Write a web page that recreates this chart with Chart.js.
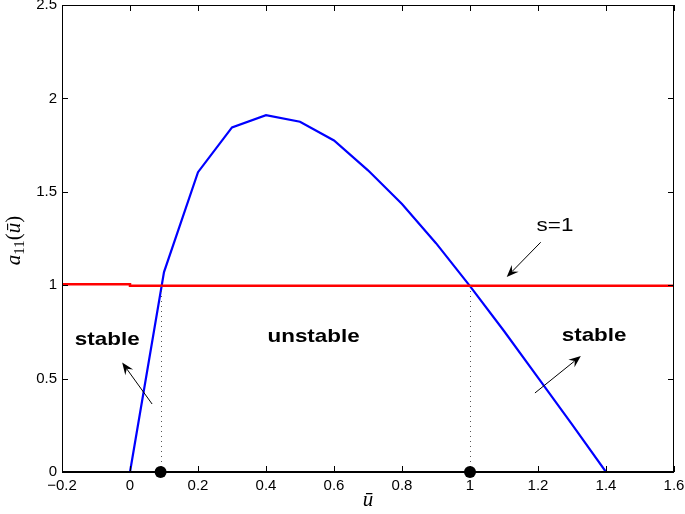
<!DOCTYPE html>
<html>
<head>
<meta charset="utf-8">
<script src="https://cdn.jsdelivr.net/npm/chart.js@4/dist/chart.umd.min.js"></script>
<style>
  html, body { margin: 0; padding: 0; background: #fff; }
  #wrap { width: 685px; height: 514px; }
</style>
</head>
<body>
<div id="wrap"><canvas id="c" width="685" height="514"></canvas></div>
<script>
// blue curve a11(u)
const curveU = [0, 0.1, 0.2, 0.3, 0.4, 0.5, 0.6, 0.7, 0.8, 0.9, 1.0, 1.1, 1.2, 1.3, 1.4];
const curveA = [0, 1.07, 1.605, 1.845, 1.91, 1.875, 1.775, 1.615, 1.435, 1.225, 0.995, 0.755, 0.505, 0.255, 0];

// red line s=1 (small step at u=0)
const sU = [-0.2, 0, 0, 1.6];
const sA = [1.005, 1.005, 0.997, 0.997];

// marked crossings on the u axis
const rootsU = [0.09, 1.0];

const xTicks = [-0.2, 0, 0.2, 0.4, 0.6, 0.8, 1, 1.2, 1.4, 1.6];
const yTicks = [0, 0.5, 1, 1.5, 2, 2.5];

// text labels (data coords)
const labels = [
  { text: 'stable', u: -0.067, a: 0.707, bold: true },
  { text: 'unstable', u: 0.54, a: 0.723, bold: true },
  { text: 'stable', u: 1.365, a: 0.73, bold: true },
  { text: 's=1', u: 1.25, a: 1.317, bold: false }
];
// arrows: from -> to (data coords)
const arrows = [
  [0.065, 0.364, -0.023, 0.586],
  [1.208, 1.23, 1.108, 1.044],
  [1.191, 0.423, 1.326, 0.621]
];

const toXY = (xs, ys) => xs.map((x, i) => ({ x: x, y: ys[i] }));
const fmt = v => (v < 0 ? '\u2212' : '') + String(Math.abs(Math.round(v * 10) / 10));

const extras = {
  id: 'extras',
  afterDatasetsDraw(chart) {
    const ctx = chart.ctx;
    const xs = chart.scales.x, ys = chart.scales.y;
    const area = chart.chartArea;

    // dotted verticals
    ctx.save();
    ctx.strokeStyle = '#555';
    ctx.lineWidth = 1;
    ctx.setLineDash([1, 4]);
    rootsU.forEach(u => {
      const px = Math.round(xs.getPixelForValue(u)) + 0.5;
      ctx.beginPath();
      ctx.moveTo(px, ys.getPixelForValue(0));
      ctx.lineTo(px, ys.getPixelForValue(1));
      ctx.stroke();
    });
    ctx.restore();

    // frame with inward ticks on all sides
    ctx.save();
    ctx.strokeStyle = '#000';
    ctx.lineWidth = 1;
    ctx.strokeRect(area.left + 0.5, area.top + 0.5, area.right - area.left - 1, area.bottom - area.top - 1);
    ctx.beginPath();
    xTicks.forEach(v => {
      const px = Math.round(xs.getPixelForValue(v)) + 0.5;
      ctx.moveTo(px, area.bottom); ctx.lineTo(px, area.bottom - 6);
      ctx.moveTo(px, area.top); ctx.lineTo(px, area.top + 6);
    });
    yTicks.forEach(v => {
      const py = Math.round(ys.getPixelForValue(v)) + 0.5;
      ctx.moveTo(area.left, py); ctx.lineTo(area.left + 6, py);
      ctx.moveTo(area.right, py); ctx.lineTo(area.right - 6, py);
    });
    ctx.stroke();
    // bottom axis line thicker
    ctx.lineWidth = 2;
    ctx.beginPath();
    ctx.moveTo(area.left, area.bottom);
    ctx.lineTo(area.right, area.bottom);
    ctx.stroke();
    ctx.restore();

    // dots
    ctx.save();
    ctx.fillStyle = '#000';
    rootsU.forEach(u => {
      ctx.beginPath();
      ctx.arc(xs.getPixelForValue(u), ys.getPixelForValue(0), 6, 0, Math.PI * 2);
      ctx.fill();
    });
    ctx.restore();

    // text labels (slightly widened, like the original)
    labels.forEach(l => {
      ctx.save();
      ctx.fillStyle = '#000';
      ctx.textAlign = 'center';
      ctx.textBaseline = 'middle';
      ctx.font = (l.bold ? 'bold 19px' : '19px') + ' "Liberation Sans", Arial, sans-serif';
      ctx.translate(xs.getPixelForValue(l.u), ys.getPixelForValue(l.a));
      ctx.scale(1.18, 1);
      ctx.fillText(l.text, 0, 0);
      ctx.restore();
    });

    // arrows
    ctx.save();
    ctx.strokeStyle = '#000';
    ctx.fillStyle = '#000';
    ctx.lineWidth = 1;
    arrows.forEach(a => {
      const x0 = xs.getPixelForValue(a[0]), y0 = ys.getPixelForValue(a[1]);
      const x1 = xs.getPixelForValue(a[2]), y1 = ys.getPixelForValue(a[3]);
      const ang = Math.atan2(y1 - y0, x1 - x0);
      const len = 13, w = 0.38;
      ctx.beginPath();
      ctx.moveTo(x0, y0);
      ctx.lineTo(x1 - Math.cos(ang) * 8, y1 - Math.sin(ang) * 8);
      ctx.stroke();
      ctx.beginPath();
      ctx.moveTo(x1, y1);
      ctx.lineTo(x1 - len * Math.cos(ang - w), y1 - len * Math.sin(ang - w));
      ctx.lineTo(x1 - len * 0.6 * Math.cos(ang), y1 - len * 0.6 * Math.sin(ang));
      ctx.lineTo(x1 - len * Math.cos(ang + w), y1 - len * Math.sin(ang + w));
      ctx.closePath();
      ctx.fill();
    });
    ctx.restore();

    // axis titles
    ctx.save();
    ctx.fillStyle = '#000';
    ctx.font = 'italic 21px "Liberation Serif", "DejaVu Serif", serif';
    ctx.textAlign = 'center';
    ctx.textBaseline = 'alphabetic';
    const cx = (area.left + area.right) / 2;
    ctx.fillText('\u016B', cx, 506);
    // y title: a11(ū)
    ctx.translate(20, (area.top + area.bottom) / 2 + 2);
    ctx.rotate(-Math.PI / 2);
    ctx.textAlign = 'left';
    const parts = [
      { t: 'a', f: 'italic 21px "Liberation Serif", serif', dy: 0 },
      { t: '11', f: '15px "Liberation Serif", serif', dy: 4 },
      { t: '(', f: '21px "Liberation Serif", serif', dy: 0 },
      { t: '\u016B', f: 'italic 21px "Liberation Serif", serif', dy: 0 },
      { t: ')', f: '21px "Liberation Serif", serif', dy: 0 }
    ];
    let total = 0;
    parts.forEach(p => { ctx.font = p.f; total += ctx.measureText(p.t).width; });
    let x = -total / 2;
    parts.forEach(p => {
      ctx.font = p.f;
      ctx.fillText(p.t, x, p.dy);
      x += ctx.measureText(p.t).width;
    });
    ctx.restore();
  }
};

new Chart(document.getElementById('c'), {
  type: 'scatter',
  data: {
    datasets: [
      { data: toXY(sU, sA), showLine: true, borderColor: '#ff0000', borderWidth: 2.5, pointRadius: 0, tension: 0 },
      { data: toXY(curveU, curveA), showLine: true, borderColor: '#0000ff', borderWidth: 2.2, pointRadius: 0, tension: 0 }
    ]
  },
  options: {
    responsive: false,
    animation: false,
    events: [],
    layout: { padding: { top: 5, right: 11, left: 0, bottom: 0 } },
    plugins: { legend: { display: false }, tooltip: { enabled: false } },
    scales: {
      x: {
        type: 'linear', min: -0.2, max: 1.6,
        afterBuildTicks: s => { s.ticks = xTicks.map(v => ({ value: v })); },
        afterFit: s => { s.height = 42; s.paddingLeft = 0; s.paddingRight = 0; },
        grid: { display: false, drawTicks: false },
        border: { display: false },
        ticks: { callback: fmt, color: '#000', padding: 5, maxRotation: 0, font: { family: '"Liberation Sans", Arial, sans-serif', size: 15 } }
      },
      y: {
        type: 'linear', min: 0, max: 2.5,
        afterBuildTicks: s => { s.ticks = yTicks.map(v => ({ value: v })); },
        afterFit: s => { s.width = 62; s.paddingTop = 0; s.paddingBottom = 0; },
        grid: { display: false, drawTicks: false },
        border: { display: false },
        ticks: { callback: fmt, color: '#000', padding: 5, font: { family: '"Liberation Sans", Arial, sans-serif', size: 15 } }
      }
    }
  },
  plugins: [extras]
});
</script>
</body>
</html>
